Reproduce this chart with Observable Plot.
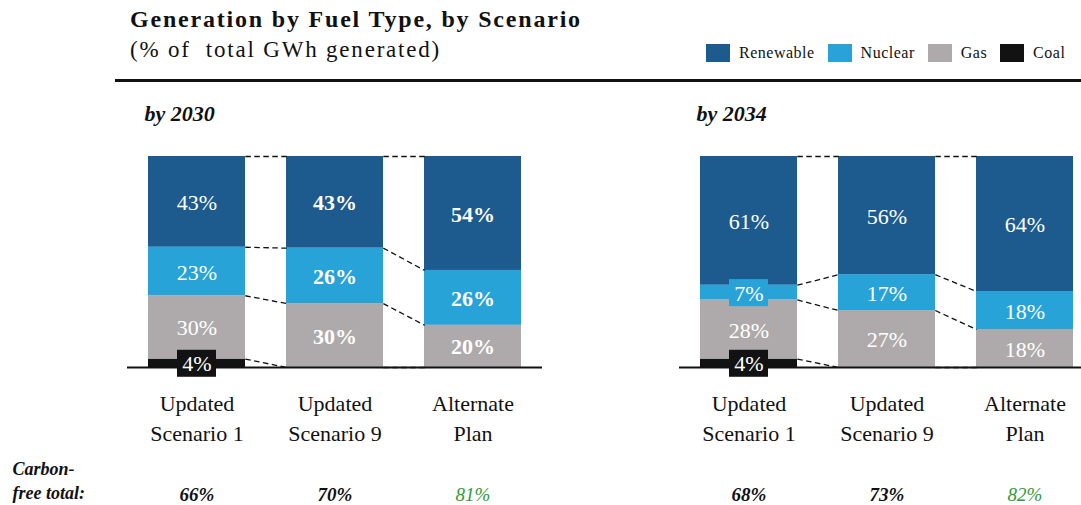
<!DOCTYPE html>
<html>
<head>
<meta charset="utf-8">
<script src="https://cdn.jsdelivr.net/npm/d3@7"></script>
<script src="https://cdn.jsdelivr.net/npm/@observablehq/plot@0.6"></script>
<style>
  html, body { margin: 0; padding: 0; background: #fff; overflow: hidden; }
  #wrap { position: relative; width: 1081px; height: 505px; overflow: hidden; font-family: "Liberation Serif", "DejaVu Serif", serif; color: #111; }
  #title { position: absolute; left: 130px; top: 7px; font-size: 24px; line-height: 24px; font-weight: bold; letter-spacing: 1.8px; white-space: nowrap; }
  #subtitle { position: absolute; left: 130px; top: 38px; font-size: 23px; line-height: 23px; letter-spacing: 1.8px; white-space: nowrap; }
  #rule { position: absolute; left: 115px; top: 79px; width: 966px; height: 3px; background: #111; }
  #legend { position: absolute; left: 706px; top: 44px; display: flex; align-items: center; font-size: 16px; letter-spacing: 0.5px; white-space: nowrap; }
  #legend .item { display: flex; align-items: center; margin-right: 13px; }
  #legend .sw { width: 24px; height: 18px; margin-right: 9px; }
  #chart { position: absolute; left: 0; top: 88px; width: 1095px; }
  #chart svg { max-width: none !important; }
</style>
</head>
<body>
<div id="wrap">
  <div id="title">Generation by Fuel Type, by Scenario</div>
  <div id="subtitle">(% of&nbsp; total GWh generated)</div>
  <div id="legend"></div>
  <div id="rule"></div>
  <div id="chart"></div>
</div>
<script>
// ---- data ----
const periods = ["2030", "2034"];
const scenarios = ["Updated Scenario 1", "Updated Scenario 9", "Alternate Plan"];
const fuels = ["Renewable", "Nuclear", "Gas", "Coal"];
const fuelColors = ["#1d5a8e", "#28a3d8", "#aeaaab", "#121212"];

const renewable2030 = [43, 43, 54];
const nuclear2030   = [23, 26, 26];
const gas2030       = [30, 30, 20];
const coal2030      = [4, 0, 0];

const renewable2034 = [61, 56, 64];
const nuclear2034   = [7, 17, 18];
const gas2034       = [28, 27, 18];
const coal2034      = [4, 0, 0];

const carbonFree2030 = [66, 70, 81];
const carbonFree2034 = [68, 73, 82];

const carbonFreeLabel = "Carbon-\nfree total:";

// ---- build tables ----
const byPeriod = {
  "2030": {Renewable: renewable2030, Nuclear: nuclear2030, Gas: gas2030, Coal: coal2030, cf: carbonFree2030},
  "2034": {Renewable: renewable2034, Nuclear: nuclear2034, Gas: gas2034, Coal: coal2034, cf: carbonFree2034}
};
const stackOrder = ["Coal", "Gas", "Nuclear", "Renewable"]; // bottom to top

const rows = [];
const tops = {};
for (const p of periods) {
  scenarios.forEach((s, i) => {
    const total = d3.sum(stackOrder, f => byPeriod[p][f][i]);
    let cum = 0;
    for (const f of stackOrder) {
      const v = byPeriod[p][f][i];
      const y1 = cum / total * 100;
      cum += v;
      const y2 = cum / total * 100;
      rows.push({period: p, scenario: s, fuel: f, value: v, y1, y2, mid: (y1 + y2) / 2});
      tops[`${p}|${s}|${f}`] = y2;
    }
  });
}
const links = [];
for (const p of periods) {
  for (let i = 0; i < scenarios.length - 1; i++) {
    for (const f of stackOrder) {
      links.push({
        period: p, from: scenarios[i], to: scenarios[i + 1],
        y1: tops[`${p}|${scenarios[i]}|${f}`], y2: tops[`${p}|${scenarios[i + 1]}|${f}`]
      });
    }
  }
}
const totals = [];
for (const p of periods) scenarios.forEach((s, i) => totals.push({period: p, scenario: s, value: byPeriod[p].cf[i]}));

const shown = rows.filter(d => d.value > 0);
const isBold = d => d.period === "2030" && d.scenario !== scenarios[0];

// ---- connector curve: from right edge of one bar to left edge of next ----
const paddingInner = 0.3;
const halfBand = (1 - paddingInner) / 2;
function gapCurve(context) {
  let pts = [];
  return {
    areaStart() {}, areaEnd() {},
    lineStart() { pts = []; },
    point(x, y) { pts.push([+x, +y]); },
    lineEnd() {
      if (pts.length < 2) return;
      const [[x0, y0], [x1, y1]] = pts;
      const h = (x1 - x0) * halfBand;
      context.moveTo(x0 + h, y0);
      context.lineTo(x1 - h, y1);
    }
  };
}

// ---- legend ----
const legend = document.getElementById("legend");
fuels.forEach((f, i) => {
  const it = document.createElement("div");
  it.className = "item";
  it.innerHTML = `<span class="sw" style="background:${fuelColors[i]}"></span><span>${f}</span>`;
  legend.appendChild(it);
});

// ---- chart ----
const serif = "'Liberation Serif', 'DejaVu Serif', serif";
const chart = Plot.plot({
  width: 1095,
  height: 417,
  marginTop: 68,
  marginBottom: 138,
  marginLeft: 127,
  marginRight: 0,
  style: {fontFamily: serif, fontSize: "21px", color: "#111", background: "transparent", overflow: "visible", maxWidth: "none"},
  fx: {domain: periods, paddingInner: 0.2476, axis: null, label: null},
  x: {domain: scenarios, paddingInner: paddingInner, paddingOuter: 0.15, axis: null, label: null},
  y: {domain: [0, 100], axis: null},
  color: {domain: fuels, range: fuelColors},
  marks: [
    Plot.barY(shown, {fx: "period", x: "scenario", y1: "y1", y2: "y2", fill: "fuel"}),
    Plot.ruleY([0], {stroke: "#111", strokeWidth: 2}),
    Plot.link(links, {fx: "period", x1: "from", x2: "to", y1: "y1", y2: "y2",
      stroke: "#111", strokeWidth: 1.3, strokeDasharray: "5.5,3.5", curve: gapCurve}),
    Plot.barY(shown.filter(d => d.value < 10), {fx: "period", x: "scenario", y1: "mid", y2: "mid", fill: "fuel",
      insetTop: -13, insetBottom: -14, insetLeft: 29, insetRight: 29}),
    Plot.text(shown.filter(d => !isBold(d)), {fx: "period", x: "scenario", y: "mid", text: d => d.value + "%",
      fill: "white", fontSize: 22, dy: 1}),
    Plot.text(shown.filter(isBold), {fx: "period", x: "scenario", y: "mid", text: d => d.value + "%",
      fill: "white", fontSize: 22, fontWeight: "bold", dy: 1}),
    Plot.text(periods, {fx: d => d, text: d => "by " + d, frameAnchor: "top-left", textAnchor: "start",
      lineAnchor: "middle", dx: 17, dy: -43, fontSize: 22, fontWeight: "bold", fontStyle: "italic", fill: "#111"}),
    Plot.axisX({tickSize: 0, tickPadding: 22, fontSize: 22, lineHeight: 1.36, label: null,
      tickFormat: d => d.replace(" ", "\n"), fill: "#111"}),
    Plot.text(totals.filter(d => d.scenario !== scenarios[2]), {fx: "period", x: "scenario", text: d => d.value + "%",
      frameAnchor: "bottom", lineAnchor: "middle", dy: 127, fontSize: 19, fontWeight: "bold", fontStyle: "italic", fill: "#111"}),
    Plot.text(totals.filter(d => d.scenario === scenarios[2]), {fx: "period", x: "scenario", text: d => d.value + "%",
      frameAnchor: "bottom", lineAnchor: "middle", dy: 127, fontSize: 19, fontStyle: "italic", fill: "#2f9a3a"}),
    Plot.text([{period: periods[0], label: carbonFreeLabel}], {fx: "period", text: "label", frameAnchor: "bottom-left",
      textAnchor: "start", lineAnchor: "middle", dx: -115, dy: 112, lineHeight: 1.3, fontSize: 18,
      fontWeight: "bold", fontStyle: "italic", fill: "#111"})
  ]
});
document.getElementById("chart").appendChild(chart);
</script>
</body>
</html>
